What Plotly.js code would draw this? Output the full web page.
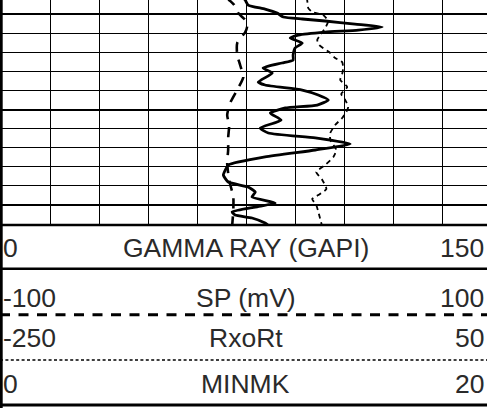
<!DOCTYPE html>
<html><head><meta charset="utf-8">
<script src="https://cdn.plot.ly/plotly-3.0.1.min.js"></script>
<style>html,body{margin:0;padding:0;overflow:hidden;background:#fff}#chart{width:491px;height:408px}</style>
</head><body><div id="chart"></div>
<script>
// ---- data ----
const grDepth  = [4988.32,4988.53,4989.06,4989.48,4989.90,4990.31,4990.52,4990.73,4991.05,4991.36,4991.68,4991.89,4992.20,4992.51,4993.04,4993.56,4994.29,4994.82,4995.13,4995.65,4996.18,4997.12,4997.43,4997.96,4998.48,4999.01,4999.53,4999.84,5000.37,5001.10,5001.94,5002.46,5002.98,5003.61,5004.24,5004.97,5005.81,5006.13,5006.86,5007.59,5008.12,5008.64,5009.16,5009.79,5010.21,5010.73,5011.05,5011.36,5011.89,5012.30];
const grValues = [74.0,74.6,75.5,80.7,84.4,86.3,92.1,99.1,108.3,116.6,109.3,99.1,90.9,88.4,92.1,89.9,89.3,89.3,85.9,80.1,82.9,78.6,80.7,92.1,97.0,100.1,96.7,86.9,82.3,85.6,79.2,81.7,96.1,106.8,96.1,80.7,69.4,68.8,67.9,69.4,75.5,77.7,76.7,83.8,77.7,70.6,71.5,76.7,80.7,82.3];

const spDepth  = [4988.32,4988.53,4989.06,4989.90,4990.63,4991.26,4991.89,4993.04,4994.29,4995.34,4996.60,4997.75,4999.32,5000.58,5001.62,5002.98,5004.24,5005.60,5007.38,5009.16,5010.52,5012.30];
const spValues = [-7.9,-7.1,-5.0,-3.4,-0.5,0.3,-0.5,-3.8,-3.8,-2.6,-1.3,-3.4,-6.7,-7.9,-7.1,-7.5,-7.5,-7.9,-7.1,-5.4,-5.4,-5.9];

const rxoDepth  = [4988.32,4988.53,4989.37,4989.79,4990.10,4990.73,4991.47,4992.20,4992.72,4993.25,4994.08,4994.61,4995.03,4995.65,4996.28,4996.91,4997.64,4998.38,4999.01,4999.74,5000.26,5000.89,5001.62,5002.46,5003.19,5004.24,5004.97,5005.81,5006.54,5007.38,5008.32,5008.95,5009.37,5010.00,5010.73,5012.30];
const rxoValues = [-63.4,-62.8,-62.1,-59.7,-53.0,-49.9,-51.7,-54.8,-56.6,-55.4,-48.6,-45.6,-41.3,-40.7,-41.3,-42.5,-38.2,-41.9,-39.4,-37.6,-38.8,-41.3,-45.6,-48.6,-48.6,-44.9,-46.7,-51.7,-57.2,-53.5,-51.0,-55.9,-59.7,-57.2,-55.9,-53.5];

const headerTitles = ["GAMMA RAY (GAPI)", "SP (mV)", "RxoRt", "MINMK"];
const headerMins   = ["0", "-100", "-250", "0"];
const headerMaxs   = ["150", "100", "50", "20"];

const gammaRange = [0, 150];
const spRange    = [-100, 100];
const rxoRange   = [-250, 50];
const depthRange = [5012, 4988.53];

// ---- layout helpers (pixel -> paper) ----
const W = 491, H = 408, L = 2;
const px = p => (p - L) / (W - L);
const py = p => (H - p) / H;

const traces = [
  {x: grValues, y: grDepth, xaxis: 'x', yaxis: 'y', mode: 'lines',
   line: {color: '#000', width: 2.8, shape: 'spline', smoothing: 0.5}, hoverinfo: 'skip'},
  {x: spValues, y: spDepth, xaxis: 'x2', yaxis: 'y', mode: 'lines',
   line: {color: '#000', width: 2.6, dash: '10px,8px', shape: 'spline', smoothing: 0.6}, hoverinfo: 'skip'},
  {x: rxoValues, y: rxoDepth, xaxis: 'x3', yaxis: 'y', mode: 'lines',
   line: {color: '#000', width: 1.8, dash: '5px,4px', shape: 'spline', smoothing: 0.5}, hoverinfo: 'skip'}
];

const shapes = [];
const hline = (p, w, dash) => shapes.push({type: 'line', xref: 'paper', yref: 'paper',
  x0: px(0), x1: px(W), y0: py(p), y1: py(p), line: {color: '#000', width: w, dash: dash || 'solid'}});
hline(225, 2.5);
hline(268.7, 2.5);
hline(314.7, 3, '10px,8.5px');
hline(360, 1.6, '3px,2.4px');
hline(405, 3);
shapes.push({type: 'line', xref: 'paper', yref: 'paper', x0: px(1.3), x1: px(1.3), y0: py(0), y1: py(H),
  line: {color: '#000', width: 2.8}});

const rowY = [247.5, 298.3, 338.3, 384.2];
const font = {family: 'Liberation Sans, Arial, sans-serif', size: 26.5, color: '#2a2a2a'};
const annotations = [];
for (let i = 0; i < headerTitles.length; i++) {
  annotations.push({xref: 'paper', yref: 'paper', x: px(2), y: py(rowY[i]), xanchor: 'left', yanchor: 'middle',
    text: headerMins[i], showarrow: false, font: font, borderpad: 0});
  annotations.push({xref: 'paper', yref: 'paper', x: px(245.5), y: py(rowY[i]), xanchor: 'center', yanchor: 'middle',
    text: headerTitles[i], showarrow: false, font: font, borderpad: 0});
  annotations.push({xref: 'paper', yref: 'paper', x: px(485), y: py(rowY[i]), xanchor: 'right', yanchor: 'middle',
    text: headerMaxs[i], showarrow: false, font: font, borderpad: 0});
}

const layout = {
  width: W, height: H,
  margin: {l: L, r: 0, t: 0, b: 0, pad: 0},
  paper_bgcolor: '#fff', plot_bgcolor: '#fff',
  showlegend: false,
  xaxis: {range: gammaRange, dtick: 15, tick0: 0, showgrid: true, gridcolor: '#000', gridwidth: 1,
          zeroline: false, showticklabels: false, ticks: '', showline: false, fixedrange: true},
  xaxis2: {range: spRange, overlaying: 'x', visible: false, fixedrange: true},
  xaxis3: {range: rxoRange, overlaying: 'x', visible: false, fixedrange: true},
  yaxis: {range: depthRange, domain: [py(224.1), 1], tick0: 4990, dtick: 10, showgrid: true, gridcolor: '#000', gridwidth: 2,
          minor: {dtick: 2, tick0: 4990, showgrid: true, gridcolor: '#000', gridwidth: 1},
          zeroline: false, showticklabels: false, ticks: '', showline: false, fixedrange: true},
  shapes: shapes,
  annotations: annotations
};

Plotly.newPlot('chart', traces, layout, {displayModeBar: false, staticPlot: true});
</script>
</body></html>
